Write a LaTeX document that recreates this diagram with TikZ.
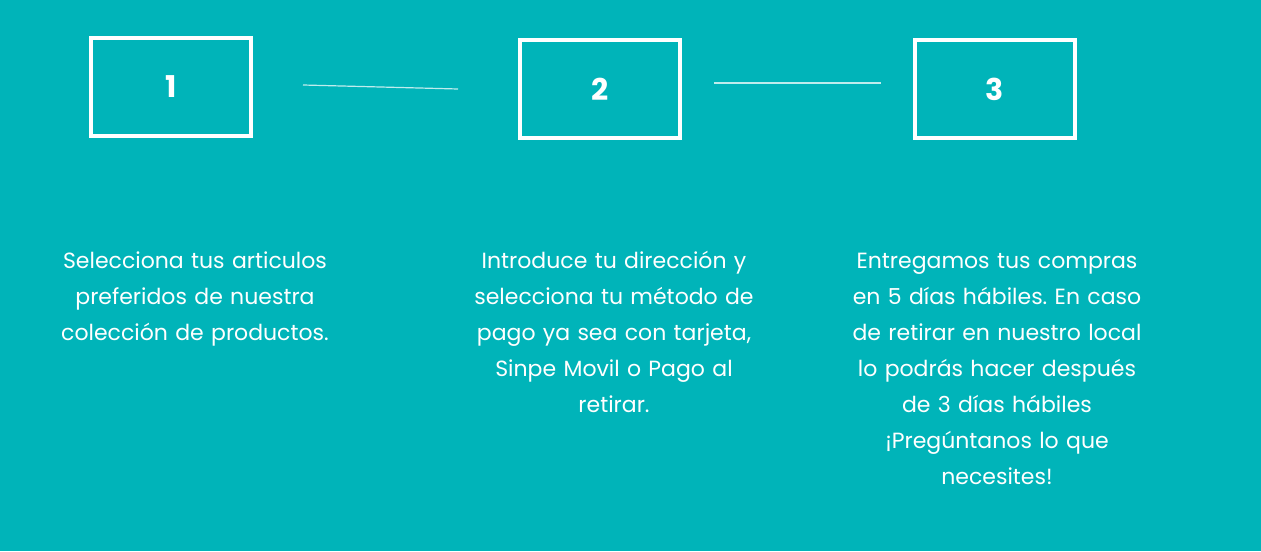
\documentclass[tikz,border=0pt]{standalone}
\usepackage{fontspec}
\setmainfont{Poppins}
\definecolor{fondo}{RGB}{0,180,185}
\frenchspacing
\begin{document}
\begin{tikzpicture}[x=0.5pt, y=-0.5pt,
        paso/.style={draw=white, line width=2pt, minimum width=80pt,
                     minimum height=49pt, inner sep=0pt, text=white,
                     font=\fontsize{15}{16}\selectfont\bfseries},
        texto/.style={text=white, align=center, text width=200pt,
                      inner sep=0pt, anchor=base,
                      font=\fontsize{11}{18}\selectfont},
        enlace/.style={draw=white!75!fondo, line width=0.6pt}]
      % Fondo
      \fill[fondo] (0,0) rectangle (1261,551);
      \useasboundingbox (0,0) rectangle (1261,551);
      % Pasos
      \node[paso] (box1) at (171,87) {1};
      \node[paso] (box2) at (600,89) {2};
      \node[paso] (box3) at (995,89) {3};
      % Extremos de los enlaces
      \coordinate (a1) at (303,85);
      \coordinate (b1) at (458,89);
      \coordinate (a2) at (714,83);
      \coordinate (b2) at (881,83);
      \draw[enlace] (a1) -- (b1);
      \draw[enlace] (a2) -- (b2);
      % Descripciones
      \node[texto] (desc1) at (195,268)
            {Selecciona tus articulos\\ preferidos de nuestra\\ colección de productos.};
      \node[texto] (desc2) at (614,268)
            {Introduce tu dirección y\\ selecciona tu método de\\ pago ya sea con tarjeta,\\
             Sinpe Movil o Pago al\\ retirar.};
      \node[texto] (desc3) at (997,268)
            {Entregamos tus compras\\ en 5 días hábiles. En caso\\ de retirar en nuestro local\\
             lo podrás hacer después\\ de 3 días hábiles\\ ¡Pregúntanos lo que\\ necesites!};
    \end{tikzpicture}
\end{document}
